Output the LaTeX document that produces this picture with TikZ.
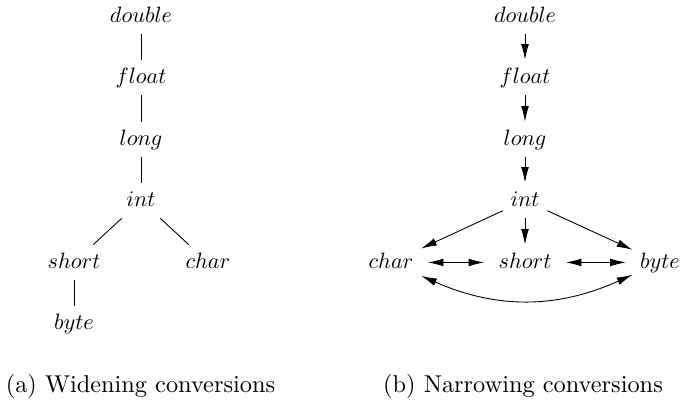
\documentclass[tikz,border=0pt]{standalone}
\usetikzlibrary{arrows.meta}
\begin{document}
\begin{tikzpicture}[
  x=0.45pt, y=0.45pt,
  typ/.style={anchor=base, text height=7pt, text depth=2pt},
  konw/.style={-{Latex[length=7pt,width=3.5pt]}},
  obie/.style={{Latex[length=7pt,width=3.5pt]}-{Latex[length=7pt,width=3.5pt]}},
  podpis/.style={anchor=base, font=\fontsize{10.95}{13}\selectfont},
]
\useasboundingbox (0,0) rectangle (681,399);
% (a) rozszerzanie: drzewo
\node[typ] (wdouble) at (141,377) {$double$};
\node[typ] (wfloat) at (141,316) {$float$};
\node[typ] (wlong) at (141,254) {$long$};
\node[typ] (wint) at (141,193) {$int$};
\node[typ] (wshort) at (74,131) {$short$};
\node[typ] (wchar) at (208,131) {$char$};
\node[typ] (wbyte) at (74,70) {$byte$};
\draw (wdouble) -- (wfloat);
\draw (wfloat) -- (wlong);
\draw (wlong) -- (wint);
\draw (wint) -- (wshort);
\draw (wint) -- (wchar);
\draw (wshort) -- (wbyte);
\node[podpis] (wcap) at (140.5,7) {(a) Widening conversions};
% (b) zawezanie: graf ze strzalkami
\node[typ] (ndouble) at (525,377) {$double$};
\node[typ] (nfloat) at (525,316) {$float$};
\node[typ] (nlong) at (525,254) {$long$};
\node[typ] (nint) at (525,193) {$int$};
\node[typ] (nchar) at (391,131) {$char$};
\node[typ] (nshort) at (525,131) {$short$};
\node[typ] (nbyte) at (660,131) {$byte$};
\draw[konw] (ndouble) -- (nfloat);
\draw[konw] (nfloat) -- (nlong);
\draw[konw] (nlong) -- (nint);
\draw[konw] (nint) -- (nchar);
\draw[konw] (nint) -- (nshort);
\draw[konw] (nint) -- (nbyte);
\draw[obie, shorten <=3pt, shorten >=3pt] (nchar) -- (nshort);
\draw[obie, shorten <=3pt, shorten >=3pt] (nshort) -- (nbyte);
\draw[obie] (nchar) to[bend right=24] (nbyte);
\node[podpis] (ncap) at (523,7) {(b) Narrowing conversions};
\end{tikzpicture}
\end{document}
